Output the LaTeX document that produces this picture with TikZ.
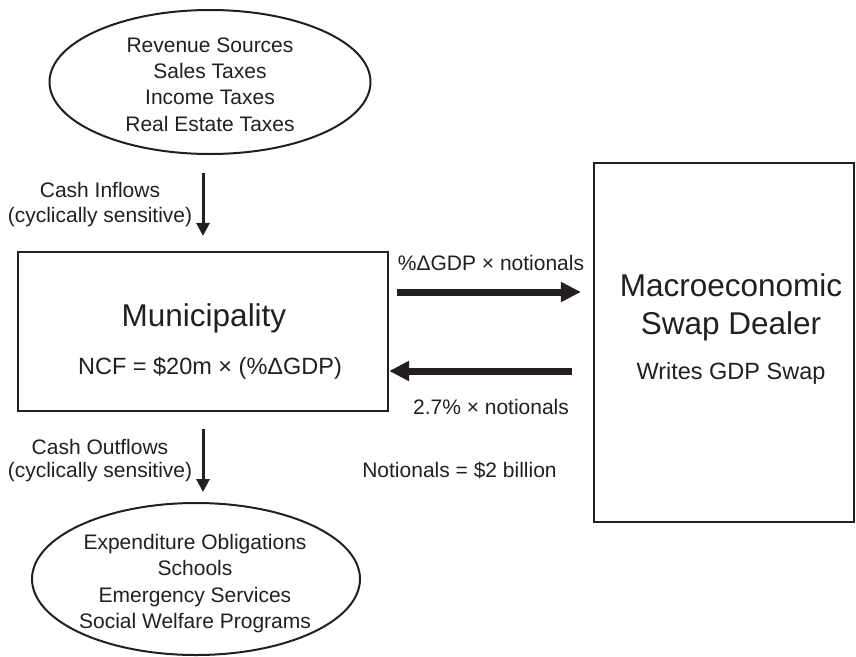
\documentclass[tikz,border=0pt]{standalone}
\usepackage{fontspec}
\setmainfont{Liberation Sans}
\usetikzlibrary{shapes.geometric,arrows.meta}
\definecolor{ink}{RGB}{35,31,32}
\begin{document}
\begin{tikzpicture}[x=1pt,y=-1pt,
  every node/.style={text=ink},
  oval/.style={draw=ink, line width=2pt, ellipse, inner sep=0pt},
  ovaltext/.style={inner sep=0pt, align=center, font=\fontsize{21}{26.3}\selectfont},
  frame/.style={draw=ink, line width=2.2pt, rectangle, inner sep=0pt},
  small/.style={inner sep=0pt, font=\fontsize{21}{26}\selectfont, text height=15pt, text depth=0pt},
  mid/.style={inner sep=0pt, font=\fontsize{23.5}{28}\selectfont, text height=16.8pt, text depth=0pt},
  big/.style={inner sep=0pt, font=\fontsize{31.5}{38}\selectfont, text height=22.6pt, text depth=0pt},
  bigarrow/.style={draw=ink, line width=7pt, -{Triangle[length=20pt,width=19pt]}},
  thinarrow/.style={draw=ink, line width=3pt, -{Triangle[length=13pt,width=13pt]}}]
\useasboundingbox (0,0) rectangle (856,656);

% ellipses
\node[oval, minimum width=321pt, minimum height=144pt] (rev) at (210,82) {};
\node[ovaltext] (revt) at (210,84.5)
  {Revenue Sources\\Sales Taxes\\Income Taxes\\Real Estate Taxes};
\node[oval, minimum width=328pt, minimum height=152pt] (exp) at (196,579) {};
\node[ovaltext] (expt) at (195,583.5)
  {Expenditure Obligations\\Schools\\Emergency Services\\Social Welfare Programs};

% boxes
\node[frame, minimum width=370pt, minimum height=159pt] (muni) at (203,331.5) {};
\node[frame, minimum width=260pt, minimum height=359pt] (dealer) at (724,342.5) {};

% box texts
\node[big] (munit) at (204,315) {Municipality};
\node[mid] (ncf) at (210,366) {NCF = \$20m × (\%ΔGDP)};
\node[big] (mac) at (731,285) {Macroeconomic};
\node[big] (swd) at (731,323) {Swap Dealer};
\node[mid] (wgs) at (731,371) {Writes GDP Swap};

% side labels
\node[small] (cin) at (100,190) {Cash Inflows};
\node[small] (cs1) at (100,215) {(cyclically sensitive)};
\node[small] (cout) at (100,447) {Cash Outflows};
\node[small] (cs2) at (100,470) {(cyclically sensitive)};
\node[small] (l1) at (491,263) {\%ΔGDP × notionals};
\node[small] (l2) at (491,407) {2.7\% × notionals};
\node[small] (l3) at (459.5,470) {Notionals = \$2 billion};

% connectors
\draw[thinarrow, shorten <=18pt, shorten >=15pt] (rev.south -| muni.north) -- (muni.north);
\draw[thinarrow, shorten <=17pt, shorten >=10pt] (muni.south) -- (exp.north -| muni.south);
\draw[bigarrow, shorten <=8pt, shorten >=12pt] (muni.east |- 0,292) -- (dealer.west |- 0,292);
\draw[bigarrow, shorten <=21pt] (dealer.west |- 0,371) -- (muni.east |- 0,371);
\end{tikzpicture}
\end{document}
